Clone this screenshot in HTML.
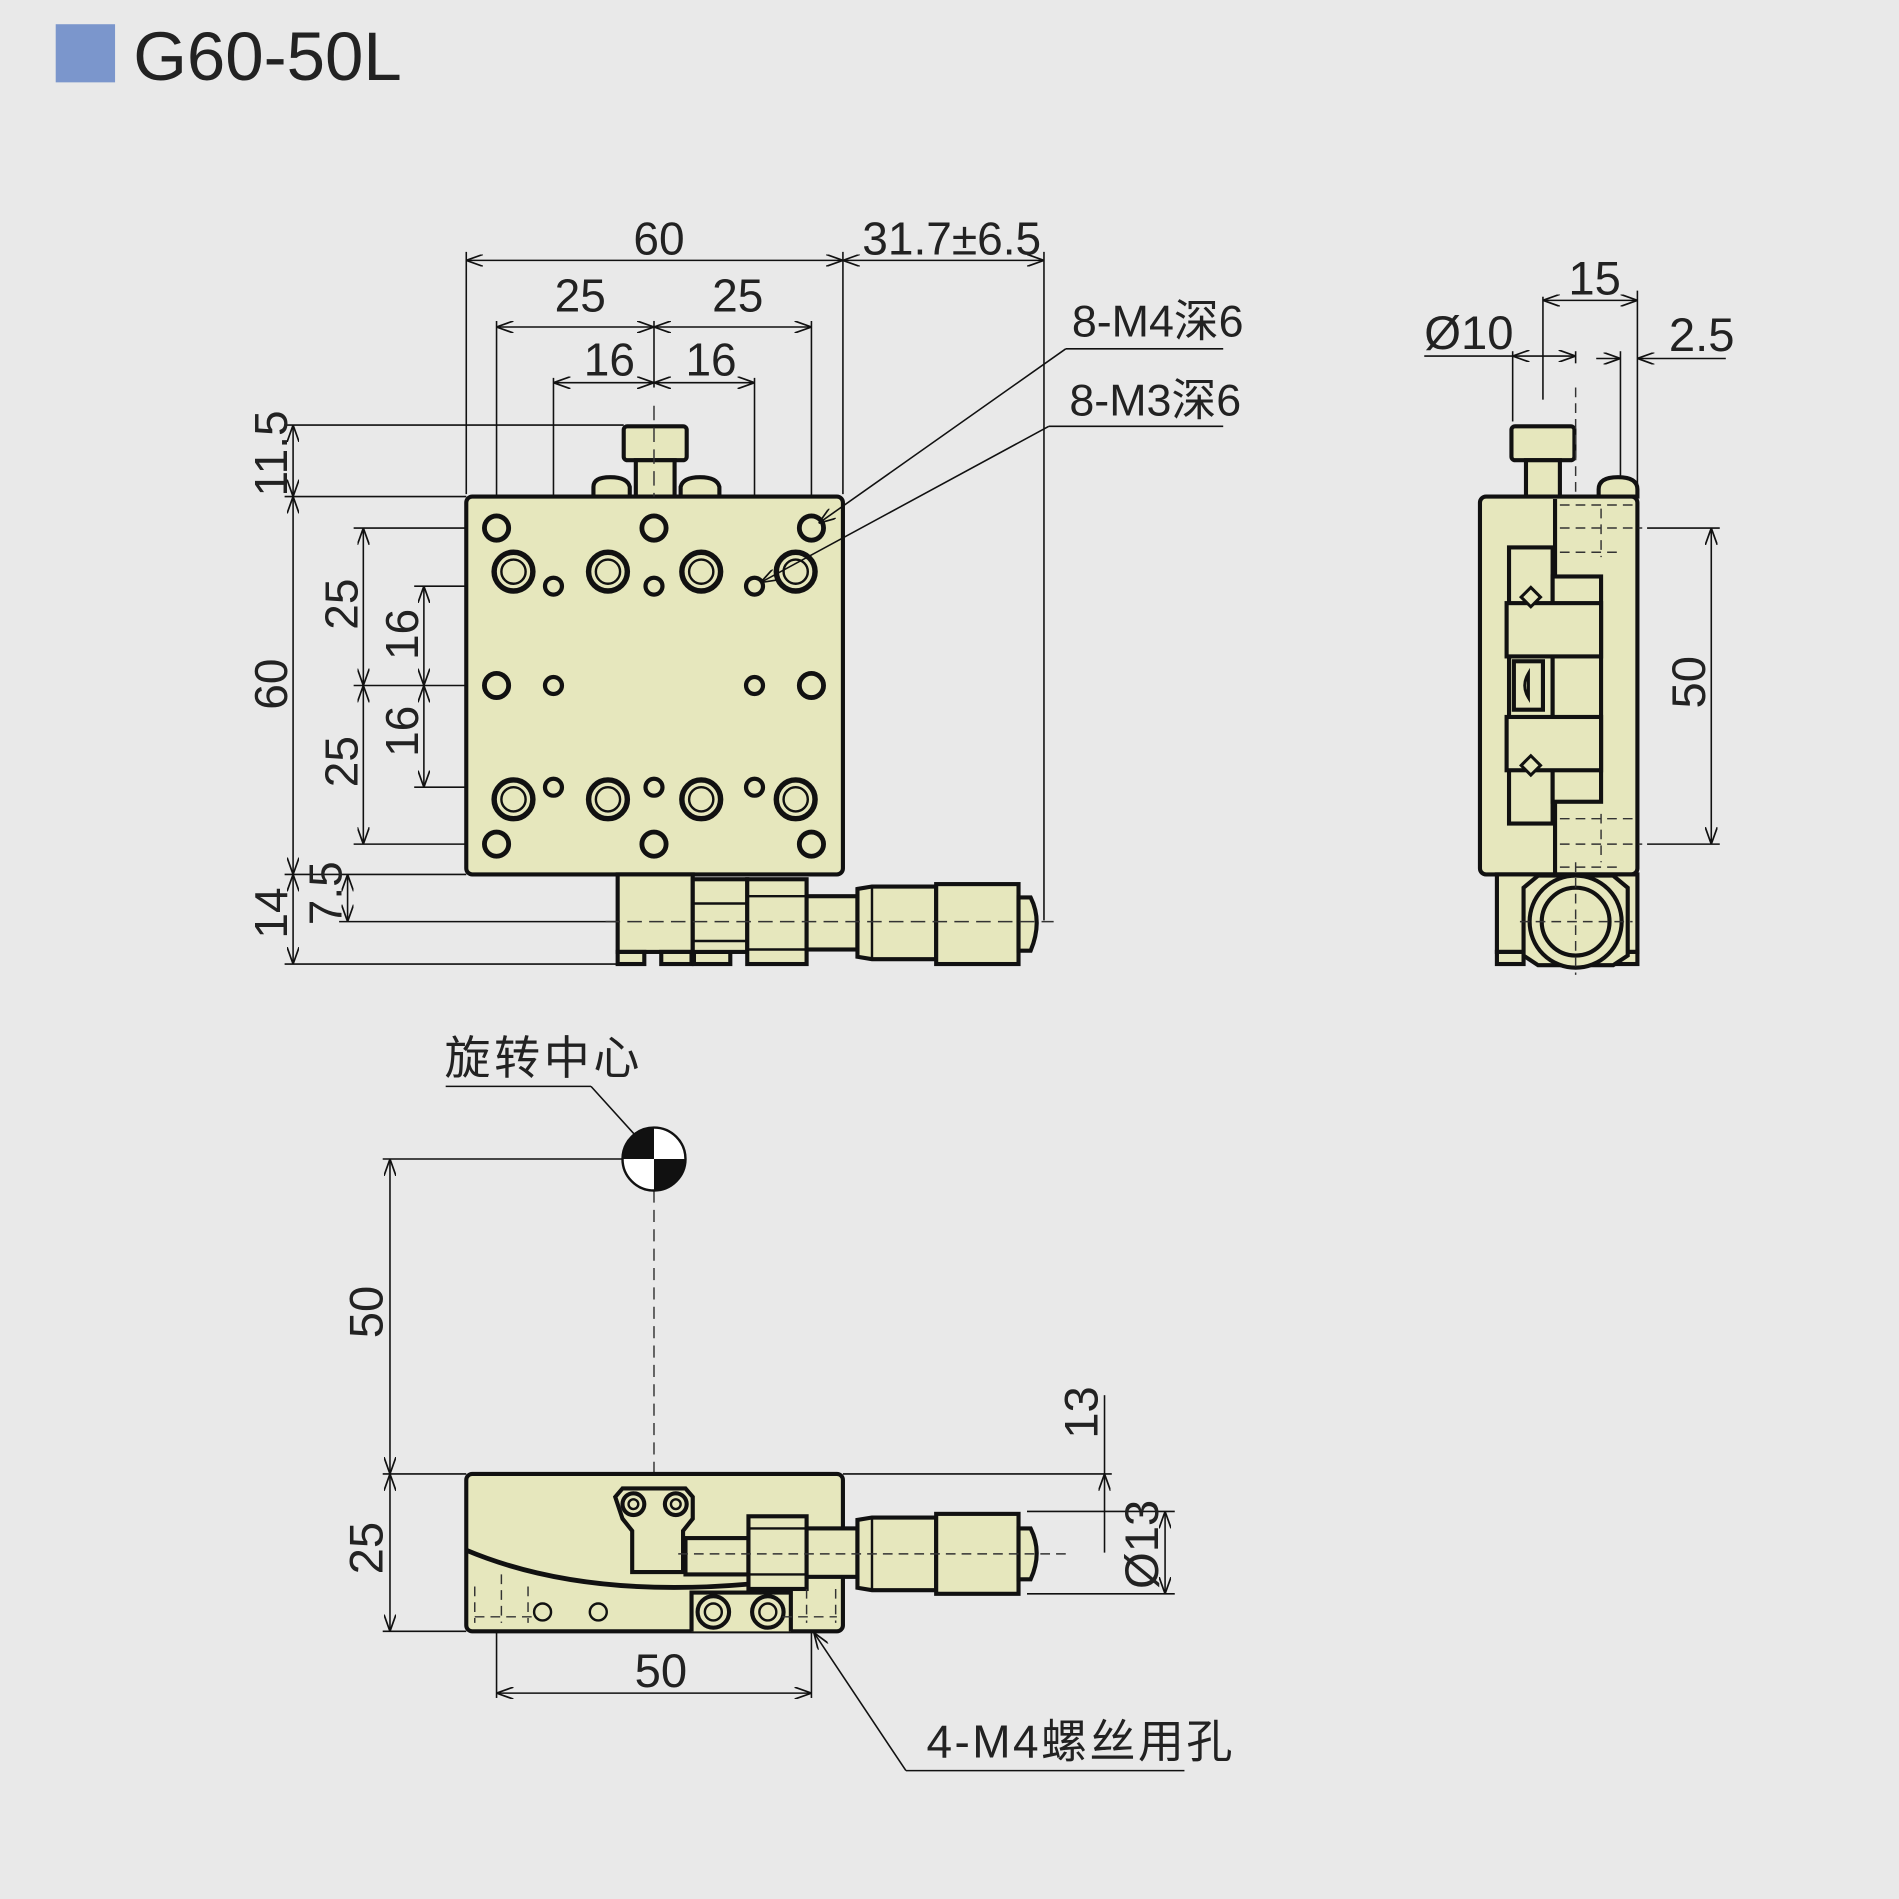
<!DOCTYPE html>
<html><head><meta charset="utf-8"><style>
html,body{margin:0;padding:0;background:#e9e9e9;}
svg{display:block}
text{font-family:"Liberation Sans","Noto Sans CJK SC",sans-serif;fill:#222;}
</style></head><body>
<svg width="1899" height="1899" viewBox="0 0 1568 1568" xmlns="http://www.w3.org/2000/svg">
<defs>
<marker id="a" viewBox="0 0 14 10" refX="14" refY="5" markerWidth="14" markerHeight="10" markerUnits="userSpaceOnUse" orient="auto-start-reverse"><path d="M0,0 L14,5 L0,10" fill="none" stroke="#111" stroke-width="1.4"/></marker>
</defs>
<rect width="1568" height="1568" fill="#e9e9e9"/>
<rect x="46" y="20" width="49" height="48" fill="#7b96cc"/>
<text x="110" y="66" font-size="57">G60-50L</text>

<g stroke="#111" stroke-width="1.3" fill="none">
<line x1="385" y1="408" x2="385" y2="208"/><line x1="696" y1="408" x2="696" y2="208"/>
<line x1="862" y1="760" x2="862" y2="208"/>
<line x1="385" y1="215" x2="696" y2="215" marker-start="url(#a)" marker-end="url(#a)"/>
<line x1="696" y1="215" x2="862" y2="215" marker-start="url(#a)" marker-end="url(#a)"/>
<line x1="410" y1="265" x2="410" y2="430"/><line x1="670" y1="265" x2="670" y2="430"/>
<line x1="540" y1="265" x2="540" y2="320"/>
<line x1="410" y1="270" x2="540" y2="270" marker-start="url(#a)" marker-end="url(#a)"/>
<line x1="540" y1="270" x2="670" y2="270" marker-start="url(#a)" marker-end="url(#a)"/>
<line x1="457" y1="312" x2="457" y2="478"/><line x1="623" y1="312" x2="623" y2="478"/>
<line x1="457" y1="316" x2="540" y2="316" marker-start="url(#a)" marker-end="url(#a)"/>
<line x1="540" y1="316" x2="623" y2="316" marker-start="url(#a)" marker-end="url(#a)"/>
<line x1="235" y1="351" x2="515" y2="351"/><line x1="235" y1="410" x2="385" y2="410"/>
<line x1="235" y1="722" x2="385" y2="722"/><line x1="235" y1="796" x2="512" y2="796"/>
<line x1="280" y1="761" x2="510" y2="761"/>
<line x1="242" y1="351" x2="242" y2="410" marker-start="url(#a)" marker-end="url(#a)"/>
<line x1="242" y1="410" x2="242" y2="722" marker-start="url(#a)" marker-end="url(#a)"/>
<line x1="242" y1="722" x2="242" y2="796" marker-start="url(#a)" marker-end="url(#a)"/>
<line x1="287" y1="722" x2="287" y2="761" marker-start="url(#a)" marker-end="url(#a)"/>
<line x1="292" y1="436" x2="404" y2="436"/><line x1="292" y1="566" x2="404" y2="566"/><line x1="292" y1="697" x2="404" y2="697"/>
<line x1="300" y1="436" x2="300" y2="566" marker-start="url(#a)" marker-end="url(#a)"/>
<line x1="300" y1="566" x2="300" y2="697" marker-start="url(#a)" marker-end="url(#a)"/>
<line x1="342" y1="484" x2="420" y2="484"/><line x1="342" y1="650" x2="420" y2="650"/>
<line x1="350" y1="484" x2="350" y2="566" marker-start="url(#a)" marker-end="url(#a)"/>
<line x1="350" y1="566" x2="350" y2="650" marker-start="url(#a)" marker-end="url(#a)"/>
</g>
<g font-size="38">
<text x="523" y="210">60</text><text x="712" y="210">31.7±6.5</text>
<text x="458" y="257">25</text><text x="588" y="257">25</text>
<text x="482" y="310">16</text><text x="566" y="310">16</text>
<text x="885" y="278" font-size="37">8-M4深6</text><text x="883" y="343" font-size="37">8-M3深6</text>
<text transform="translate(237,410) rotate(-90)">11.5</text>
<text transform="translate(237,586) rotate(-90)">60</text>
<text transform="translate(237,775) rotate(-90)">14</text>
<text transform="translate(282,764) rotate(-90)">7.5</text>
<text transform="translate(295,520) rotate(-90)">25</text>
<text transform="translate(295,650) rotate(-90)">25</text>
<text transform="translate(345,545) rotate(-90)">16</text>
<text transform="translate(345,625) rotate(-90)">16</text>
</g>

<g stroke="#111" stroke-width="3.4" fill="#e6e7bd">
<rect x="515" y="352" width="52" height="28" rx="3"/>
<rect x="525" y="380" width="32" height="30"/>
<path d="M490,410 v-8 q0,-8 14,-8 q14,0 16,8 v8z"/>
<path d="M562,410 v-8 q2,-8 16,-8 q14,0 16,8 v8z"/>
<rect x="385" y="410" width="311" height="312" rx="5"/>
<rect x="510" y="722" width="62" height="64"/>
<rect x="510" y="786" width="22" height="10"/><rect x="546" y="786" width="25" height="10"/><rect x="573" y="786" width="30" height="10"/>
<rect x="572" y="726" width="45" height="60"/>
<rect x="617" y="726" width="49" height="70"/>
<rect x="666" y="740" width="42" height="44"/>
<path d="M708,734 l12,-2 h53 v60 h-53 l-12,-2z"/>
<rect x="773" y="730" width="68" height="66"/>
<path d="M841,741 h10 q10,20 0,44 h-10z"/>
</g>
<g stroke="#111" stroke-width="2" fill="none">
<line x1="572" y1="746" x2="617" y2="746"/><line x1="572" y1="777" x2="617" y2="777"/>
<line x1="617" y1="740" x2="666" y2="740"/><line x1="617" y1="784" x2="666" y2="784"/>
<line x1="720" y1="732" x2="720" y2="792"/>
</g>
<line x1="500" y1="761" x2="870" y2="761" stroke="#333" stroke-width="1.2" stroke-dasharray="12,6"/>
<line x1="540" y1="335" x2="540" y2="410" stroke="#333" stroke-width="1.2" stroke-dasharray="12,6"/>
<g stroke="#111" fill="#e6e7bd">
<g stroke-width="4">
<circle cx="410" cy="436" r="10"/><circle cx="540" cy="436" r="10"/><circle cx="670" cy="436" r="10"/>
<circle cx="410" cy="566" r="10"/><circle cx="670" cy="566" r="10"/>
<circle cx="410" cy="697" r="10"/><circle cx="540" cy="697" r="10"/><circle cx="670" cy="697" r="10"/>
</g>
<g stroke-width="3.5">
<circle cx="457" cy="484" r="7"/><circle cx="540" cy="484" r="7"/><circle cx="623" cy="484" r="7"/>
<circle cx="457" cy="566" r="7"/><circle cx="623" cy="566" r="7"/>
<circle cx="457" cy="650" r="7"/><circle cx="540" cy="650" r="7"/><circle cx="623" cy="650" r="7"/>
</g>
<g stroke-width="4.5">
<circle cx="424" cy="472" r="16"/><circle cx="502" cy="472" r="16"/><circle cx="579" cy="472" r="16"/><circle cx="657" cy="472" r="16"/>
<circle cx="424" cy="660" r="16"/><circle cx="502" cy="660" r="16"/><circle cx="579" cy="660" r="16"/><circle cx="657" cy="660" r="16"/>
</g>
<g stroke-width="2">
<circle cx="424" cy="472" r="10"/><circle cx="502" cy="472" r="10"/><circle cx="579" cy="472" r="10"/><circle cx="657" cy="472" r="10"/>
<circle cx="424" cy="660" r="10"/><circle cx="502" cy="660" r="10"/><circle cx="579" cy="660" r="10"/><circle cx="657" cy="660" r="10"/>
</g>
</g>
<g stroke="#111" stroke-width="1.3" fill="none">
<line x1="1010" y1="288" x2="880" y2="288"/><line x1="880" y1="288" x2="676" y2="432" marker-end="url(#a)"/>
<line x1="1010" y1="352" x2="866" y2="352"/><line x1="866" y1="352" x2="628" y2="481" marker-end="url(#a)"/>
</g>

<!-- side view -->
<g stroke="#111" stroke-width="1.3" fill="none">
<line x1="1249" y1="348" x2="1249" y2="290"/><line x1="1301" y1="290" x2="1301" y2="300"/>
<line x1="1274" y1="245" x2="1274" y2="330"/><line x1="1352" y1="240" x2="1352" y2="408"/>
<line x1="1338" y1="290" x2="1338" y2="395"/>
<line x1="1274" y1="248" x2="1352" y2="248" marker-start="url(#a)" marker-end="url(#a)"/>
<line x1="1176" y1="294" x2="1249" y2="294"/>
<line x1="1249" y1="294" x2="1301" y2="294" marker-start="url(#a)" marker-end="url(#a)"/>
<line x1="1318" y1="296" x2="1338" y2="296" marker-end="url(#a)"/>
<line x1="1425" y1="296" x2="1352" y2="296" marker-end="url(#a)"/>
<line x1="1360" y1="436" x2="1420" y2="436"/><line x1="1360" y1="697" x2="1420" y2="697"/>
<line x1="1413" y1="436" x2="1413" y2="697" marker-start="url(#a)" marker-end="url(#a)"/>
</g>
<g font-size="39"><text x="1295" y="243">15</text><text x="1176" y="288">Ø10</text><text x="1378" y="290">2.5</text>
<text transform="translate(1408,585) rotate(-90)">50</text></g>
<g stroke="#111" stroke-width="3.4" fill="#e6e7bd">
<rect x="1248" y="352" width="52" height="28" rx="3"/>
<rect x="1260" y="380" width="28" height="30"/>
<path d="M1320,410 v-6 q0,-10 16,-10 q16,0 16,10 v6z"/>
<rect x="1222" y="410" width="130" height="312" rx="5"/>
<rect x="1236" y="722" width="116" height="64"/>
<rect x="1236" y="786" width="22" height="10"/><rect x="1322" y="786" width="30" height="10"/>
<path d="M1258,733 l12,-10 h62 l12,10 v56 l-12,8 h-62 l-12,-8z"/>
<circle cx="1301" cy="761" r="38"/><circle cx="1301" cy="761" r="28"/>
<rect x="1246" y="452" width="36" height="228"/>
<rect x="1282" y="476" width="40" height="186"/>
<rect x="1244" y="498" width="78" height="44"/>
<rect x="1244" y="592" width="78" height="44"/>
<rect x="1250" y="546" width="24" height="40"/>
<path d="M1284,412 v64 M1284,662 v60"/>
</g>
<g stroke="#333" stroke-width="1.2" stroke-dasharray="8,5" fill="none">
<path d="M1288,417 h60 M1288,436 h68 M1288,456 h52 M1322,420 v40"/>
<path d="M1288,676 h60 M1288,697 h68 M1288,716 h52 M1322,672 v40"/>
<line x1="1301" y1="320" x2="1301" y2="410"/>
<line x1="1255" y1="761" x2="1348" y2="761"/><line x1="1301" y1="712" x2="1301" y2="805"/>
</g>
<path d="M1256,493 l8,-8 l8,8 l-8,8z M1256,632 l8,-8 l8,8 l-8,8z M1262,556 q-6,10 0,20z" fill="#e6e7bd" stroke="#111" stroke-width="2.5"/>

<!-- bottom view -->
<text x="367" y="887" font-size="38" letter-spacing="3">旋转中心</text>
<g stroke="#111" stroke-width="1.3" fill="none">
<line x1="368" y1="897" x2="488" y2="897"/><line x1="488" y1="897" x2="536" y2="950" marker-end="url(#a)"/>
<line x1="316" y1="957" x2="514" y2="957"/>
<line x1="316" y1="1217" x2="385" y2="1217"/><line x1="316" y1="1347" x2="385" y2="1347"/>
<line x1="322" y1="957" x2="322" y2="1217" marker-start="url(#a)" marker-end="url(#a)"/>
<line x1="322" y1="1217" x2="322" y2="1347" marker-start="url(#a)" marker-end="url(#a)"/>
<line x1="696" y1="1217" x2="918" y2="1217"/>
<line x1="912" y1="1152" x2="912" y2="1217"/>
<line x1="912" y1="1282" x2="912" y2="1217" marker-end="url(#a)"/>
<line x1="848" y1="1248" x2="970" y2="1248"/><line x1="848" y1="1316" x2="970" y2="1316"/>
<line x1="962" y1="1248" x2="962" y2="1316" marker-start="url(#a)" marker-end="url(#a)"/>
<line x1="410" y1="1340" x2="410" y2="1402"/><line x1="670" y1="1340" x2="670" y2="1402"/>
<line x1="410" y1="1398" x2="670" y2="1398" marker-start="url(#a)" marker-end="url(#a)"/>
<line x1="978" y1="1462" x2="748" y2="1462"/><line x1="748" y1="1462" x2="672" y2="1348" marker-end="url(#a)"/>
</g>
<g font-size="39"><text transform="translate(316,1105) rotate(-90)">50</text><text transform="translate(316,1300) rotate(-90)">25</text>
<text transform="translate(906,1188) rotate(-90)">13</text><text transform="translate(956,1312) rotate(-90)">Ø13</text>
<text x="524" y="1393">50</text><text x="765" y="1451" font-size="38" letter-spacing="2">4-M4螺丝用孔</text></g>
<line x1="540" y1="983" x2="540" y2="1217" stroke="#333" stroke-width="1.2" stroke-dasharray="10,6"/>
<circle cx="540" cy="957" r="26" fill="#fff" stroke="#111" stroke-width="2"/>
<path d="M540,957 L540,931 A26,26 0 0 0 514,957z M540,957 L566,957 A26,26 0 0 1 540,983z" fill="#111"/>
<g stroke="#111" stroke-width="3.4" fill="#e6e7bd">
<rect x="385" y="1217" width="311" height="130" rx="5"/>
<path d="M508,1236 l6,-7 h52 l6,7 v18 l-8,10 v34 h-42 v-34 l-8,-10z"/>
<path d="M571,1347 v-32 h82 v32"/>
<rect x="566" y="1270" width="52" height="30"/>
<rect x="618" y="1252" width="48" height="60"/>
<rect x="666" y="1262" width="42" height="40"/>
<path d="M708,1255 l12,-2 h53 v60 h-53 l-12,-2z"/>
<rect x="773" y="1250" width="68" height="66"/>
<path d="M841,1262 h10 q10,20 0,42 h-10z"/>
<circle cx="448" cy="1331" r="7" stroke-width="2"/><circle cx="494" cy="1331" r="7" stroke-width="2"/>
<circle cx="589" cy="1331" r="13"/><circle cx="634" cy="1331" r="13"/>
<circle cx="589" cy="1331" r="7" stroke-width="2"/><circle cx="634" cy="1331" r="7" stroke-width="2"/>
<circle cx="523" cy="1242" r="9"/><circle cx="558" cy="1242" r="9"/>
<circle cx="523" cy="1242" r="4" stroke-width="2"/><circle cx="558" cy="1242" r="4" stroke-width="2"/>
</g>
<path d="M385,1280 Q480,1320 618,1308" fill="none" stroke="#111" stroke-width="4"/>
<g stroke="#111" stroke-width="2" fill="none"><line x1="618" y1="1262" x2="666" y2="1262"/><line x1="618" y1="1300" x2="666" y2="1300"/><line x1="720" y1="1253" x2="720" y2="1313"/></g>
<g stroke="#333" stroke-width="1.2" stroke-dasharray="8,5" fill="none">
<line x1="560" y1="1283" x2="880" y2="1283"/>
<path d="M392,1310 v30 M414,1300 v40 M436,1310 v30 M392,1335 h50 M666,1312 v28 M690,1312 v28 M646,1335 h45"/>
</g>
</svg>
</body></html>
